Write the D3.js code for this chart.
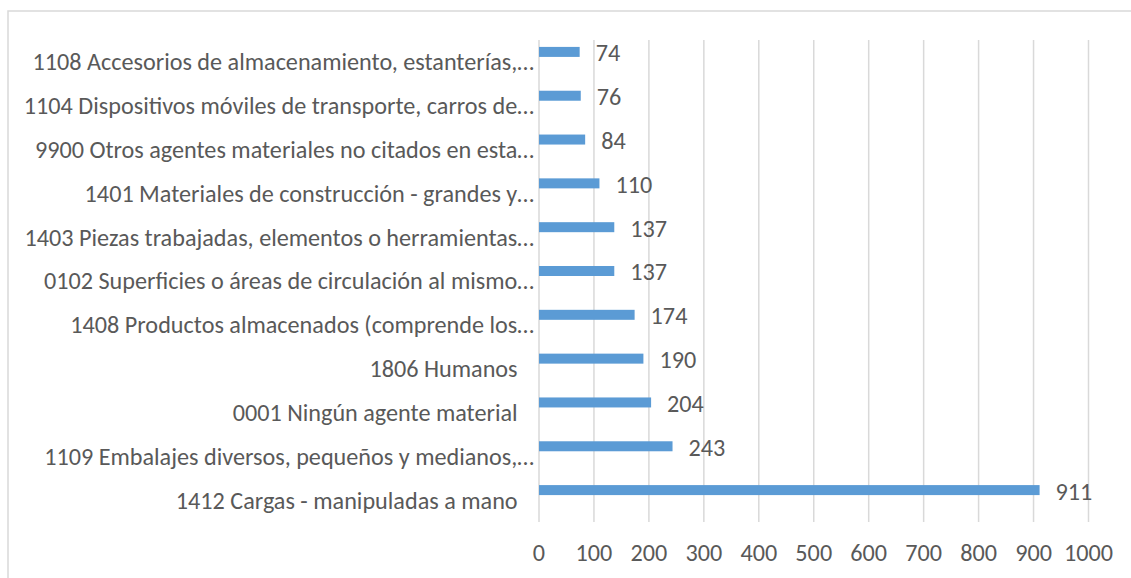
<!DOCTYPE html>
<html><head><meta charset="utf-8">
<script src="https://cdn.jsdelivr.net/npm/d3@7"></script>
<style>
html,body{margin:0;padding:0;background:#fff;}
text{font-family:Carlito, Calibri, Lato, "Open Sans", sans-serif; white-space:pre;}
</style></head>
<body>
<svg id="chart" width="1131" height="578"></svg>
<script>
const categories = [
  "1108 Accesorios de almacenamiento, estanterías,…",
  "1104 Dispositivos móviles de transporte, carros de…",
  "9900 Otros agentes materiales no citados en esta…",
  "1401 Materiales de construcción - grandes y…",
  "1403 Piezas trabajadas, elementos o herramientas…",
  "0102 Superficies o áreas de circulación al mismo…",
  "1408 Productos almacenados (comprende los…",
  "1806 Humanos\u00a0\u00a0\u00a0",
  "0001 Ningún agente material\u00a0\u00a0\u00a0",
  "1109 Embalajes diversos, pequeños y medianos,…",
  "1412 Cargas - manipuladas a mano\u00a0\u00a0\u00a0"
];
const values = [74, 76, 84, 110, 137, 137, 174, 190, 204, 243, 911];
const tickValues = [0,100,200,300,400,500,600,700,800,900,1000];

const svg = d3.select("#chart");
const fontSize = 24.2;
const textColor = "#595959";

// chart border (clipped on right and bottom)
svg.append("rect").attr("x",8).attr("y",11).attr("width",1140).attr("height",600)
  .attr("fill","none").attr("stroke","#d9d9d9").attr("stroke-width",1.5);

const x = d3.scaleLinear().domain([0,1000]).range([539,1088.5]);
const y = d3.scaleBand().domain(categories).range([40,522]);

// gridlines
svg.append("g").selectAll("line").data(tickValues).join("line")
  .attr("x1",d=>x(d)).attr("x2",d=>x(d)).attr("y1",40).attr("y2",522)
  .attr("stroke","#d9d9d9").attr("stroke-width",1.5);

// bars (first slot of a two-slot cluster)
const barH = 10;
const barY = c => y(c) + y.bandwidth()/2 - 10 - barH/2;
svg.append("g").selectAll("rect").data(values).join("rect")
  .attr("x",x(0)).attr("y",(d,i)=>barY(categories[i]))
  .attr("width",d=>x(d)-x(0)).attr("height",barH)
  .attr("fill","#5b9bd5");

// value labels
svg.append("g").selectAll("text").data(values).join("text")
  .attr("x",d=>x(d)+16).attr("y",(d,i)=>barY(categories[i])+barH/2+1)
  .attr("dy","0.35em").attr("fill",textColor).attr("font-size",fontSize)
  .text(d=>d);

// category labels
svg.append("g").selectAll("text").data(categories).join("text")
  .attr("x",534).attr("y",d=>y(d)+y.bandwidth()/2)
  .attr("dy","0.35em").attr("text-anchor","end").attr("fill",textColor)
  .attr("font-size",fontSize).text(d=>d);

// x tick labels
svg.append("g").selectAll("text").data(tickValues).join("text")
  .attr("x",d=>x(d)).attr("y",553).attr("dy","0.35em").attr("text-anchor","middle")
  .attr("fill",textColor).attr("font-size",fontSize).text(d=>d);
</script>
</body></html>
